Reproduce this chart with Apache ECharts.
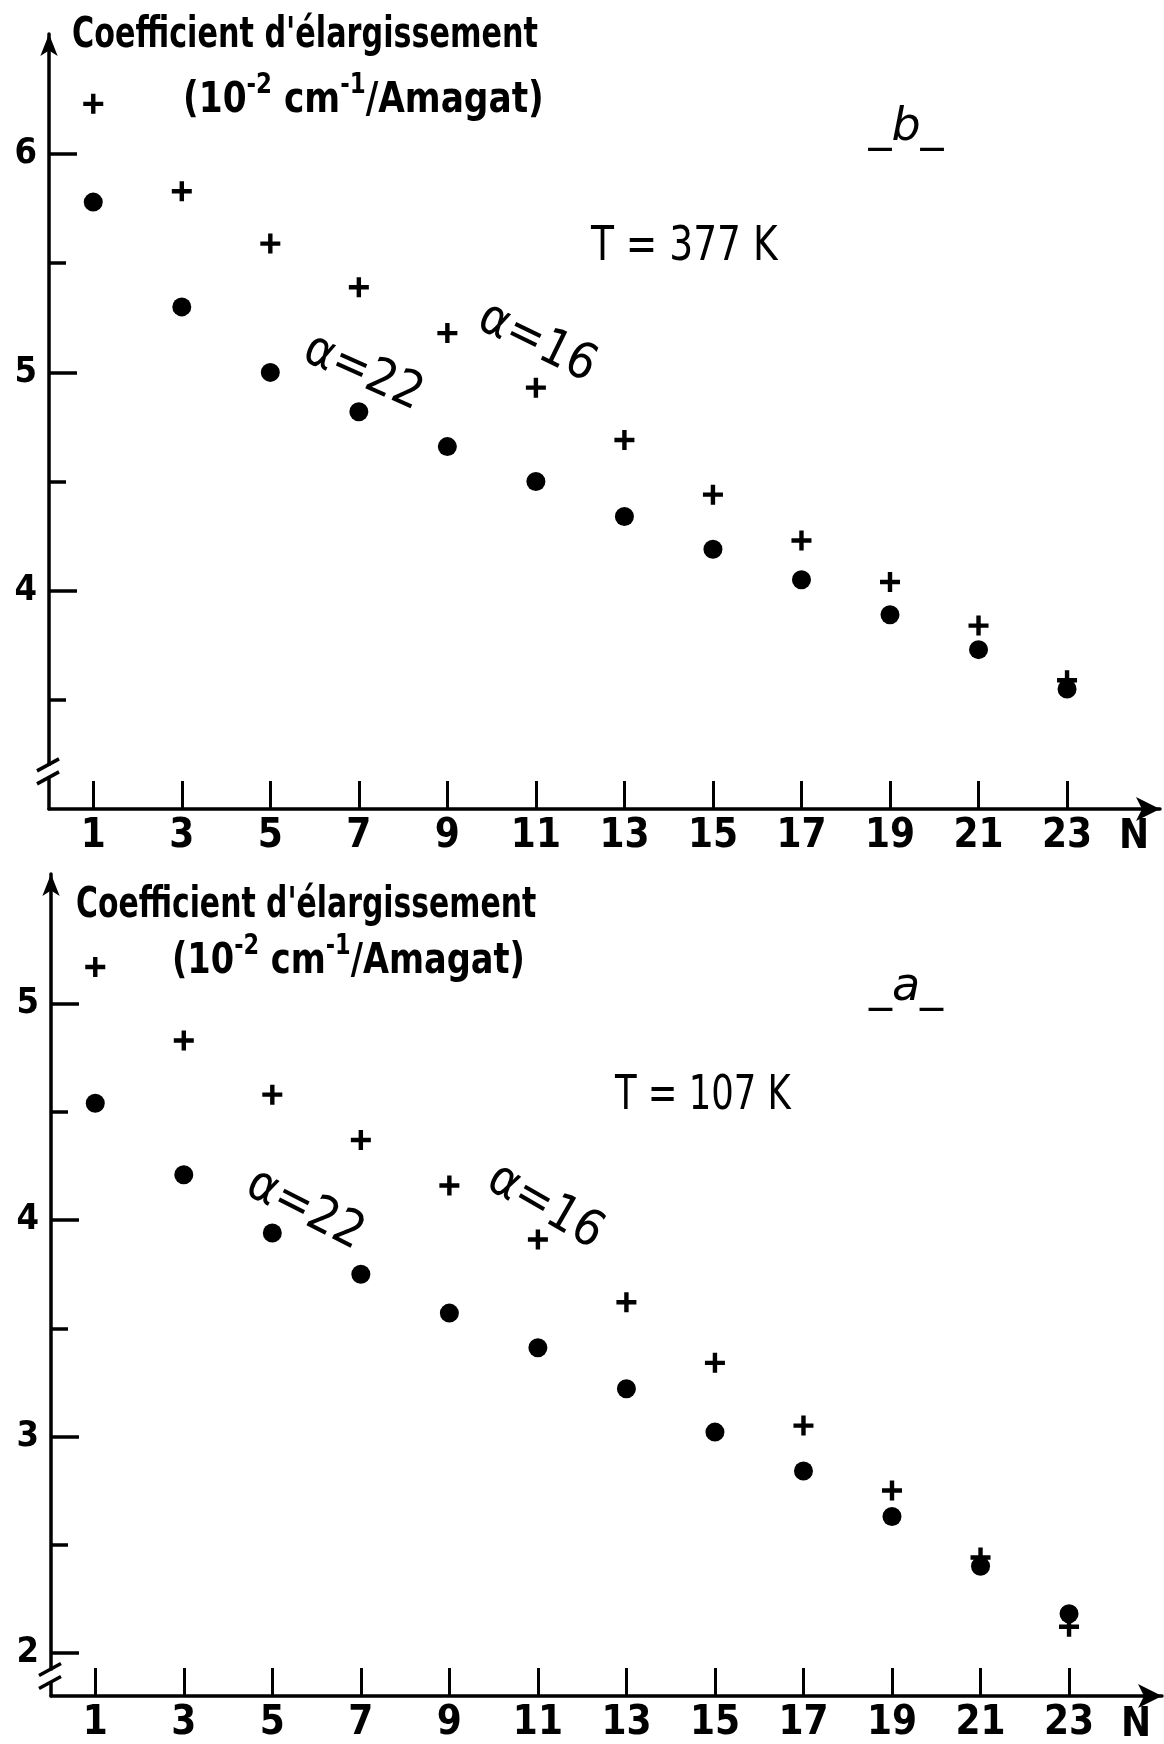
<!DOCTYPE html>
<html>
<head>
<meta charset="utf-8">
<script src="https://cdn.jsdelivr.net/npm/echarts@6/dist/echarts.min.js"></script>
<style>
html,body{margin:0;padding:0;background:#fff;}
#chart{width:1164px;height:1744px;}
</style>
</head>
<body>
<div id="chart"></div>
<script>
// ---- Data (N = rotational quantum number) ----
const N = [1, 3, 5, 7, 9, 11, 13, 15, 17, 19, 21, 23];
// Panel b : T = 377 K
const b_alpha22 = [5.78, 5.30, 5.00, 4.82, 4.66, 4.50, 4.34, 4.19, 4.05, 3.89, 3.73, 3.55];
const b_alpha16 = [6.23, 5.83, 5.59, 5.39, 5.18, 4.93, 4.69, 4.44, 4.23, 4.04, 3.84, 3.59];
// Panel a : T = 107 K
const a_alpha22 = [4.54, 4.21, 3.94, 3.75, 3.57, 3.41, 3.22, 3.02, 2.84, 2.63, 2.40, 2.18];
const a_alpha16 = [5.17, 4.83, 4.58, 4.37, 4.16, 3.91, 3.62, 3.34, 3.05, 2.75, 2.44, 2.12];
// Tick labels
const b_yMajor = [4, 5, 6];
const b_yMinor = [3.5, 4.5, 5.5];
const a_yMajor = [2, 3, 4, 5];
const a_yMinor = [2.5, 3.5, 4.5];

const FONT = "'DejaVu Sans Condensed', 'DejaVu Sans', sans-serif";
const PLUS = 'path://M3.9,0H6.1V3.9H10V6.1H6.1V10H3.9V6.1H0V3.9H3.9Z';

const chart = echarts.init(document.getElementById('chart'), null, {renderer: 'canvas'});

function xAxis(gi) {
  return {
    type: 'value', gridIndex: gi, min: 0, max: 25.1,
    axisLine: {show: true, symbol: ['none', 'arrow'], symbolSize: [18, 24],
      lineStyle: {color: '#000', width: 3.5}},
    axisTick: {show: true, inside: true, length: 28, customValues: N,
      lineStyle: {color: '#000', width: 3}},
    axisLabel: {customValues: N, color: '#000', fontSize: 40, fontWeight: 'bold',
      fontFamily: FONT, margin: 8},
    splitLine: {show: false}
  };
}
function yAxisMajor(gi, min, max, vals) {
  return {
    type: 'value', gridIndex: gi, min: min, max: max, position: 'left',
    axisLine: {show: true, symbol: ['none', 'arrow'], symbolSize: [13, 22],
      lineStyle: {color: '#000', width: 3.5}},
    axisTick: {show: true, inside: true, length: 28, customValues: vals,
      lineStyle: {color: '#000', width: 3.5}},
    axisLabel: {customValues: vals, color: '#000', fontSize: 36, fontWeight: 'bold',
      fontFamily: FONT, margin: 12},
    splitLine: {show: false}
  };
}
function yAxisMinor(gi, min, max, vals) {
  return {
    type: 'value', gridIndex: gi, min: min, max: max, position: 'left', offset: 0,
    axisLine: {show: false},
    axisTick: {show: true, inside: true, length: 17, customValues: vals,
      lineStyle: {color: '#000', width: 3.5}},
    axisLabel: {show: false},
    splitLine: {show: false}
  };
}
function pts(vals) { return N.map((n, i) => [n, vals[i]]); }

function txt(x, y, text, size, opts) {
  opts = opts || {};
  return {
    type: 'text', x: x, y: y, rotation: opts.rot || 0, scaleX: opts.sx || 1, z: 50, silent: true,
    style: {
      text: text, fill: '#000', fontSize: size, fontFamily: opts.family || FONT,
      fontWeight: opts.weight || 'normal', fontStyle: opts.style || 'normal',
      align: opts.align || 'left', verticalAlign: 'middle', rich: opts.rich
    }
  };
}
const unitRich = {
  n: {fontSize: 42, lineHeight: 50, fontFamily: FONT, fontWeight: 'bold', fill: '#000', verticalAlign: 'bottom'},
  s: {fontSize: 28, lineHeight: 28, fontFamily: FONT, fontWeight: 'bold', fill: '#000', verticalAlign: 'top'}
};
const unitText = '{n|(10}{s|-2}{n| cm}{s|-1}{n|/Amagat)}';
const deg = Math.PI / 180;
const markStyle = {color: '#000', opacity: 1};

const option = {
  animation: false,
  backgroundColor: '#fff',
  grid: [
    {left: 49, top: 34, width: 1111, height: 775},
    {left: 51, top: 874, width: 1111, height: 823}
  ],
  xAxis: [xAxis(0), xAxis(1)],
  yAxis: [
    yAxisMajor(0, 3.0, 6.55, b_yMajor),
    yAxisMinor(0, 3.0, 6.55, b_yMinor),
    yAxisMajor(1, 1.8, 5.6, a_yMajor),
    yAxisMinor(1, 1.8, 5.6, a_yMinor)
  ],
  series: [
    {type: 'scatter', name: 'b α=16', xAxisIndex: 0, yAxisIndex: 0, data: pts(b_alpha16),
      symbol: PLUS, symbolSize: 20, itemStyle: markStyle, silent: true},
    {type: 'scatter', name: 'b α=22', xAxisIndex: 0, yAxisIndex: 0, data: pts(b_alpha22),
      symbol: 'circle', symbolSize: 19, itemStyle: markStyle, silent: true},
    {type: 'scatter', name: 'a α=16', xAxisIndex: 1, yAxisIndex: 2, data: pts(a_alpha16),
      symbol: PLUS, symbolSize: 20, itemStyle: markStyle, silent: true},
    {type: 'scatter', name: 'a α=22', xAxisIndex: 1, yAxisIndex: 2, data: pts(a_alpha22),
      symbol: 'circle', symbolSize: 19, itemStyle: markStyle, silent: true}
  ]
};
chart.setOption(option);

// Decorations: titles, annotations, axis-break marks
function breakMarks(gi, xv, yv) {
  const p = chart.convertToPixel({gridIndex: gi}, [xv, yv]);
  const cx = p[0], cy = p[1];
  return [
    {type: 'rect', shape: {x: cx - 4, y: cy - 6, width: 8, height: 12}, style: {fill: '#fff'}, z: 60, silent: true},
    {type: 'line', shape: {x1: cx - 12, y1: cy - 1, x2: cx + 10, y2: cy - 13}, style: {stroke: '#000', lineWidth: 3.5}, z: 61, silent: true},
    {type: 'line', shape: {x1: cx - 12, y1: cy + 12, x2: cx + 10, y2: cy}, style: {stroke: '#000', lineWidth: 3.5}, z: 61, silent: true}
  ];
}

const elements = [
  // Panel b (top)
  txt(72, 36, "Coefficient d'élargissement", 42, {weight: 'bold', sx: 0.8}),
  txt(183, 97, unitText, 42, {rich: unitRich, sx: 0.91}),
  txt(906, 128, '_b_', 46, {style: 'italic', align: 'center', family: "'DejaVu Sans', sans-serif"}),
  txt(591, 248, 'T = 377 K', 48, {sx: 0.87}),
  txt(363, 373, 'α=22', 50, {align: 'center', rot: -24 * deg}),
  txt(537, 343, 'α=16', 50, {align: 'center', rot: -26 * deg}),
  txt(1134, 838, 'N', 40, {weight: 'bold', align: 'center'}),
  // Panel a (bottom)
  txt(76, 906, "Coefficient d'élargissement", 42, {weight: 'bold', sx: 0.79}),
  txt(172, 958, unitText, 42, {rich: unitRich, sx: 0.89}),
  txt(906, 988, '_a_', 46, {style: 'italic', align: 'center', family: "'DejaVu Sans', sans-serif"}),
  txt(615, 1097, 'T = 107 K', 48, {sx: 0.82}),
  txt(305, 1210, 'α=22', 50, {align: 'center', rot: -27 * deg}),
  txt(545, 1207, 'α=16', 50, {align: 'center', rot: -30 * deg}),
  txt(1136, 1726, 'N', 40, {weight: 'bold', align: 'center'})
].concat(breakMarks(0, 0, 3.17)).concat(breakMarks(1, 0, 1.89));

chart.setOption({graphic: {elements: elements}});
</script>
</body>
</html>
